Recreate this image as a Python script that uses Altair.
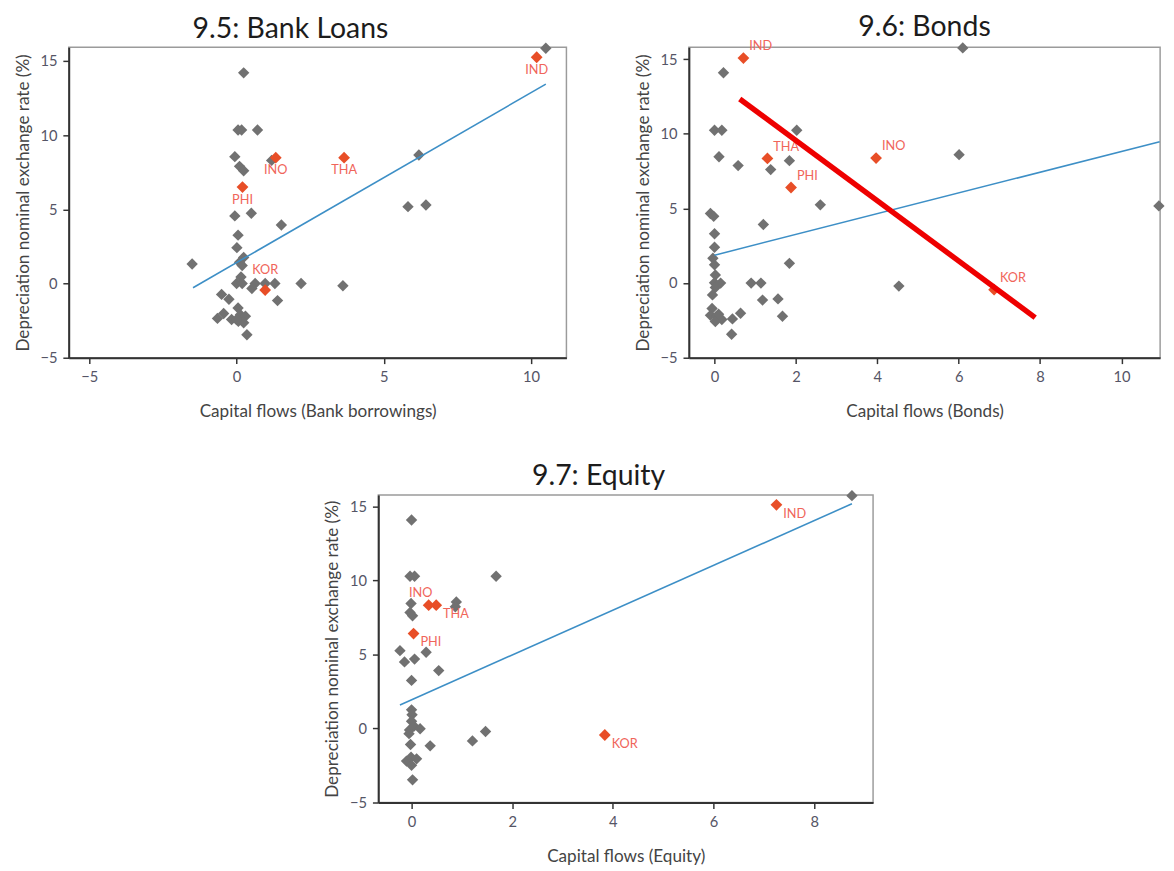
import altair as alt
import pandas as pd

# ---------------- data ----------------
# Panel 9.5: Bank Loans
bank_gray_x = [-1.51, 0.24, 0.05, 0.17, 0.71, -0.06, 0.10, 0.24, 1.19, -0.06, 0.50, 1.52,
               0.05, 0.01, 0.24, 0.10, 0.19, 0.15, 0.00, 0.19, 0.63, 0.97, 1.30, 2.19,
               3.61, 1.39, 0.52, -0.51, -0.26, -0.65, -0.44, -0.17, 0.05, 0.13, 0.30,
               0.06, 0.24, 0.00, 0.35, 5.82, 6.43, 6.19, 10.50]
bank_gray_y = [1.32, 14.20, 10.35, 10.35, 10.35, 8.55, 7.90, 7.60, 8.30, 4.56, 4.74, 3.95,
               3.26, 2.42, 1.76, 1.43, 1.21, 0.44, 0.00, 0.00, 0.00, 0.00, 0.00, 0.00,
               -0.15, -1.15, -0.33, -0.73, -1.06, -2.35, -2.02, -2.42, -1.65, -2.10, -2.20,
               -2.55, -2.64, -2.42, -3.45, 5.18, 5.29, 8.66, 15.86]
bank_red_name = ["IND", "INO", "THA", "PHI", "KOR"]
bank_red_x = [10.19, 1.33, 3.65, 0.20, 0.97]
bank_red_y = [15.25, 8.48, 8.48, 6.50, -0.44]
bank_fit_x = [-1.48, 10.50]
bank_fit_y = [-0.28, 13.44]

# Panel 9.6: Bonds
bond_gray_x = [0.22, 0.00, 0.18, 2.02, 0.11, 0.58, 1.38, 1.84, 2.60, 1.20, 1.84, 0.90, 1.14,
               1.18, 1.56, 1.67, 0.64, 0.44, 0.42, -0.10, -0.02, 0.00, 0.00, -0.04, 0.00,
               0.02, 0.00, 0.15, 0.02, -0.05, -0.06, -0.10, 0.05, 0.18, 0.02, 0.10,
               6.10, 6.01, 10.92, 4.53]
bond_gray_y = [14.09, 10.24, 10.24, 10.24, 8.46, 7.87, 7.60, 8.20, 5.24, 3.92, 1.32, 0.00, 0.00,
               -1.14, -1.06, -2.22, -2.02, -2.40, -3.43, 4.66, 4.47, 3.30, 2.40, 1.66, 1.22,
               0.54, 0.02, 0.00, -0.30, -0.79, -1.70, -2.16, -2.24, -2.44, -2.57, -2.09,
               15.75, 8.60, 5.17, -0.20]
bond_red_name = ["IND", "THA", "PHI", "INO", "KOR"]
bond_red_x = [0.71, 1.30, 1.88, 3.97, 6.87]
bond_red_y = [15.07, 8.35, 6.40, 8.37, -0.44]
bond_fit_x = [0.00, 10.94]
bond_fit_y = [1.87, 9.47]
bond_mark_x = [0.62, 7.88]     # red hand-drawn annotation line
bond_mark_y = [12.33, -2.31]

# Panel 9.7: Equity
eq_gray_x = [0.00, -0.03, 0.06, 1.68, -0.01, -0.03, 0.02, 0.89, 0.87, -0.23, -0.14, 0.06,
             0.29, 0.54, 0.00, 0.00, 0.01, 0.00, -0.04, 0.05, 0.17, -0.05, -0.02, 0.37,
             -0.10, -0.01, 0.10, 0.00, 0.02, 1.21, 1.47, 8.75]
eq_gray_y = [14.08, 10.28, 10.28, 10.28, 8.44, 7.84, 7.62, 8.55, 8.22, 5.26, 4.50, 4.69,
             5.15, 3.91, 3.25, 1.26, 0.93, 0.49, -0.10, 0.16, -0.02, -0.35, -1.08, -1.17,
             -2.20, -1.94, -2.05, -2.49, -3.47, -0.84, -0.20, 15.73]
eq_red_name = ["IND", "KOR", "PHI", "THA", "INO"]
eq_red_x = [7.25, 3.84, 0.04, 0.49, 0.34]
eq_red_y = [15.11, -0.44, 6.41, 8.33, 8.33]
eq_fit_x = [-0.23, 8.75]
eq_fit_y = [1.59, 15.18]

y_ticks = [-5, 0, 5, 10, 15]
y_title = "Depreciation nominal exchange rate (%)"

GRAY = "#717171"
RED = "#e84e27"
LABEL = "#f0655a"
BLUE = "#3d8fc6"
FONT = "Lato"


def panel(title, xtitle, gx, gy, rn, rx, ry, fx, fy, xdom, ydom, xticks, w, h,
          label_specs, extra=None, frame="bounds"):
    gdf = pd.DataFrame({"x": gx, "y": gy})
    rdf = pd.DataFrame({"x": rx, "y": ry, "name": rn})
    fdf = pd.DataFrame({"x": fx, "y": fy})
    xs = alt.Scale(domain=xdom, nice=False, zero=False)
    ys = alt.Scale(domain=ydom, nice=False, zero=False)
    X = alt.X("x:Q", scale=xs, title=xtitle,
              axis=alt.Axis(values=xticks, format="d"))
    Y = alt.Y("y:Q", scale=ys, title=y_title,
              axis=alt.Axis(values=y_ticks, format="d"))
    pts = alt.Chart(gdf).mark_point(shape="diamond", filled=True, size=135,
                                    color=GRAY, opacity=1).encode(x=X, y=Y)
    fit = alt.Chart(fdf).mark_line(color=BLUE, strokeWidth=1.6).encode(x="x:Q", y="y:Q")
    reds = alt.Chart(rdf).mark_point(shape="diamond", filled=True, size=145,
                                     color=RED, opacity=1).encode(x="x:Q", y="y:Q")
    layers = [pts, fit, reds]
    for names, dx, dy, align in label_specs:
        lab = alt.Chart(rdf).transform_filter(
            alt.FieldOneOfPredicate(field="name", oneOf=names)
        ).mark_text(color=LABEL, fontSize=13, font=FONT, dx=dx, dy=dy,
                    align=align, baseline="middle").encode(x="x:Q", y="y:Q", text="name:N")
        layers.append(lab)
    if extra is not None:
        layers.append(extra)
    return alt.layer(*layers).properties(
        width=w, height=h,
        title=alt.TitleParams(title, fontSize=29, font=FONT, color="#1c1c1c",
                              fontWeight="normal", offset=-1, frame=frame),
    )


p1 = panel("9.5: Bank Loans", "Capital flows (Bank borrowings)",
           bank_gray_x, bank_gray_y, bank_red_name, bank_red_x, bank_red_y,
           bank_fit_x, bank_fit_y, [-5.7, 11.2], [-5, 15.93], [-5, 0, 5, 10], 508, 317,
           [(["IND", "INO", "THA", "PHI"], 0, 13, "center"), (["KOR"], 0, -20, "center")])

mdf = pd.DataFrame({"x": bond_mark_x, "y": bond_mark_y})
red_line = alt.Chart(mdf).mark_line(color="#ee0000", strokeWidth=5.5).encode(x="x:Q", y="y:Q")

p2 = panel("9.6: Bonds", "Capital flows (Bonds)",
           bond_gray_x, bond_gray_y, bond_red_name, bond_red_x, bond_red_y,
           bond_fit_x, bond_fit_y, [-0.63, 10.95], [-5, 15.8], [0, 2, 4, 6, 8, 10], 481, 317,
           [(["IND", "THA", "PHI", "INO", "KOR"], 6, -12, "left")], extra=red_line,
           frame="group")

p3 = panel("9.7: Equity", "Capital flows (Equity)",
           eq_gray_x, eq_gray_y, eq_red_name, eq_red_x, eq_red_y,
           eq_fit_x, eq_fit_y, [-0.66, 9.17], [-5, 15.78], [0, 2, 4, 6, 8], 505, 314,
           [(["IND", "KOR", "PHI", "THA"], 7, 9, "left"), (["INO"], -20, -12, "left")])

spacer = alt.Chart(pd.DataFrame({"x": [0]})).mark_point(opacity=0).encode(
    x=alt.X("x:Q", axis=None), y=alt.Y("x:Q", axis=None)
).properties(width=258, height=10, view=alt.ViewBackground(stroke="transparent"))

row1 = alt.hconcat(p1, p2, spacing=67)
row2 = alt.hconcat(spacer, p3, spacing=0)

chart = alt.vconcat(row1, row2, spacing=41).properties(
    padding={"left": 5, "top": -5, "right": 0, "bottom": 0}
).configure_view(
    stroke="#9b9b9b", strokeWidth=1.5
).configure_axis(
    grid=False, domainColor="#333333", domainWidth=2, tickColor="#333333",
    tickWidth=1.5, tickSize=6, labelColor="#555566", labelFontSize=15, labelFont=FONT,
    labelPadding=6, titleColor="#444444", titleFontSize=17.5, titleFont=FONT,
    titleFontWeight="normal"
).configure_axisX(titlePadding=19).configure_axisY(titlePadding=8, titleFontSize=17.5)

chart.save("out.html", embed_options={"renderer": "svg", "actions": False})
